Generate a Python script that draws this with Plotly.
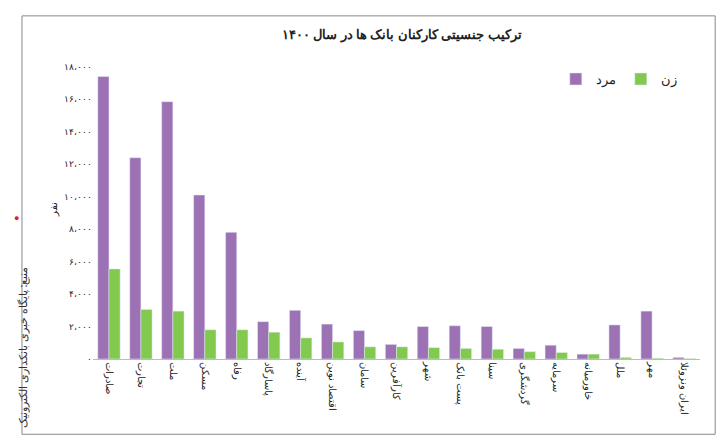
import plotly.graph_objects as go

categories = ["صادرات","تجارت","ملت","مسکن","رفاه","پاسارگاد","آینده","اقتصاد نوین","سامان","کارآفرین","شهر","پست بانک","سینا","گردشگری","سرمایه","خاورمیانه","ملل","مهر","ایران ونزوئلا"]
men = [17400,12400,15850,10100,7800,2300,3000,2150,1750,900,2000,2050,2000,650,850,300,2100,2950,100]
women = [5550,3050,2950,1800,1800,1650,1300,1050,750,750,700,650,600,450,400,300,100,50,30]
tick_vals = [0,2000,4000,6000,8000,10000,12000,14000,16000,18000]
fa = str.maketrans("0123456789","۰۱۲۳۴۵۶۷۸۹")
tick_text = ["۰" if v==0 else f"{v//1000}،۰۰۰".translate(fa) for v in tick_vals]

font = "Noto Sans"
fig = go.Figure()
fig.add_bar(x=categories, y=men, name="مرد", marker_color="#9d72b5")
fig.add_bar(x=categories, y=women, name="زن", marker_color="#82c94f")
fig.update_layout(
    width=716, height=437, barmode="group", bargap=0.3, bargroupgap=0,
    plot_bgcolor="white", paper_bgcolor="white",
    margin=dict(l=85, r=24, t=50, b=86, autoexpand=False),
    font=dict(family=font, size=10, color="#222"),
    title=dict(text="<b>ترکیب جنسیتی کارکنان بانک ها در سال ۱۴۰۰</b>", x=0.55, y=0.95, xanchor="center", font=dict(size=13)),
    legend=dict(orientation="h", x=0.97, y=0.98, xanchor="right", yanchor="top", font=dict(size=13), traceorder="normal"),
    showlegend=True,
)
fig.update_xaxes(tickangle=90, automargin=False, showline=True, linecolor="#bbb", tickfont=dict(size=10, family=font))
fig.update_yaxes(range=[0,18000*1.03], automargin=False, tickvals=tick_vals, ticktext=tick_text, showgrid=False,
                 tickfont=dict(size=9), title=dict(text="نفر", font=dict(size=10), standoff=4))
fig.add_annotation(text="منبع: پایگاه خبری بانکداری الکترونیک", textangle=-90, xref="paper", yref="paper",
                   x=-0.133, y=-0.235, yanchor="bottom", showarrow=False, font=dict(size=11, color="#333"))
fig.add_annotation(text="●", xref="paper", yref="paper", x=-0.133, y=0.47, showarrow=False, font=dict(size=9, color="#d22"))
fig.add_shape(type="rect", xref="paper", yref="paper", x0=-0.117, x1=1.025, y0=-0.25, y1=1.14, line=dict(color="#888", width=1))
fig.write_html("out.html")
